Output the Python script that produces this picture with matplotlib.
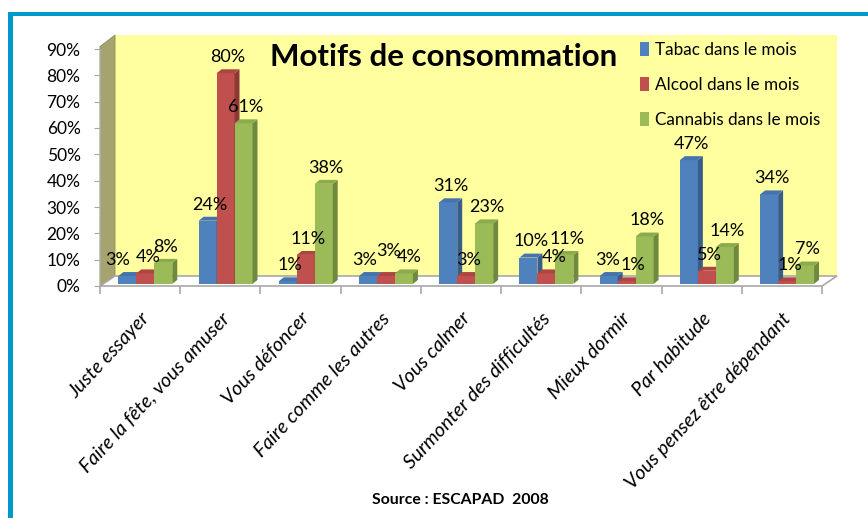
import numpy as np
import matplotlib
matplotlib.use("Agg")
import matplotlib.pyplot as plt
import matplotlib.transforms as mtransforms
from matplotlib.patches import Polygon, Rectangle, Patch

categories = ["Juste essayer", "Faire la fête, vous amuser", "Vous défoncer",
              "Faire comme les autres", "Vous calmer", "Surmonter des difficultés",
              "Mieux dormir", "Par habitude", "Vous pensez être dépendant"]
tabac = [3, 24, 1, 3, 31, 10, 3, 47, 34]
alcool = [4, 80, 11, 3, 3, 4, 1, 5, 1]
cannabis = [8, 61, 38, 4, 23, 11, 18, 14, 7]
series_names = ["Tabac dans le mois", "Alcool dans le mois", "Cannabis dans le mois"]
yticks = [0, 10, 20, 30, 40, 50, 60, 70, 80, 90]

# front, side, top colours
colors = [("#4F81BD", "#385D8A", "#4573AD"),
          ("#C0504D", "#8C3836", "#AE4542"),
          ("#9BBB59", "#71893F", "#8CAB4E")]

# label nudges (pixels) where the original chart moved overlapping labels
nudges = {(0, 0): (-12, 0), (3, 0): (-6, 0), (3, 1): (0, 9), (3, 2): (3, 0),
          (5, 1): (5, 0), (6, 0): (-4, 0), (6, 1): (4, 0)}

plt.rcParams['font.family'] = ['Lato', 'DejaVu Sans']

W, H = 868, 518
fig = plt.figure(figsize=(W / 100, H / 100), dpi=100)
fig.patch.set_facecolor("white")

# blue frame
fig.add_artist(Rectangle((8 / W, 1 - 16 / H), 1, 4 / H, transform=fig.transFigure,
                         color="#0099CC", lw=0))
fig.add_artist(Rectangle((8 / W, 0), 5 / W, 1 - 12 / H, transform=fig.transFigure,
                         color="#0099CC", lw=0))

ax = fig.add_axes([100 / W, (H - 286) / H, 722 / W, 237 / H])
ax.set_xlim(-0.5, len(categories) - 0.5)
ax.set_ylim(0, 90)
ax.set_facecolor("none")

# 3D walls (axes fraction)
dxa, dya = 15 / 722, 10 / 237
ax.add_patch(Rectangle((dxa, dya), 1, 1.059 - dya, transform=ax.transAxes,
                       facecolor="#FFFFA0", edgecolor="none", clip_on=False, zorder=0))
ax.add_patch(Polygon([(0, 0), (0, 1.01), (dxa, 1.059), (dxa, dya)], closed=True,
                     transform=ax.transAxes, facecolor="#A6A46E", edgecolor="#8C8A5A",
                     lw=0.6, clip_on=False, zorder=0.5))
ax.add_patch(Polygon([(0, 0), (1, 0), (1 + dxa, dya), (dxa, dya)], closed=True,
                     transform=ax.transAxes, facecolor="white", edgecolor="#A8A8A8",
                     lw=1.2, clip_on=False, zorder=0.5))

x = np.arange(len(categories))
w = 0.224
shift = 0.065
ddx, ddy = 0.062, 1.5
base = 0.8
series = [tabac, alcool, cannabis]

for i in range(len(categories)):
    for s, vals in enumerate(series):
        x0 = x[i] + shift + (s - 1.5) * w
        top = base + vals[i]
        fc, sc, tc = colors[s]
        z = 2 + s
        ax.bar(x0, vals[i], width=w, bottom=base, align="edge", color=fc,
               edgecolor="none", zorder=z)
        ax.add_patch(Polygon([(x0 + w, base), (x0 + w + ddx, base + ddy),
                              (x0 + w + ddx, top + ddy), (x0 + w, top)],
                             closed=True, facecolor=sc, edgecolor="none", zorder=z))
        ax.add_patch(Polygon([(x0, top), (x0 + w, top), (x0 + w + ddx, top + ddy),
                              (x0 + ddx, top + ddy)],
                             closed=True, facecolor=tc, edgecolor="none", zorder=z))
        nx, ny = nudges.get((i, s), (0, 0))
        ax.annotate(f"{vals[i]}%", (x0 + w / 2 + ddx / 2, top + ddy),
                    xytext=(nx * 0.72, 3 + ny * 0.72), textcoords="offset points",
                    ha="center", va="bottom", fontsize=13, color="black", zorder=10)

handles = [Patch(facecolor=colors[s][0], edgecolor="none", label=series_names[s])
           for s in range(3)]

ax.set_yticks(yticks)
ax.set_yticklabels([f"{v}%" for v in yticks], fontsize=12.5)
ax.set_xticks(x)
ax.set_xticklabels(categories, rotation=47, ha="right", rotation_mode="anchor",
                   fontsize=14.3, style="italic")
offset = mtransforms.ScaledTranslation(-10 / 100, 0, fig.dpi_scale_trans)
for lbl in ax.get_xticklabels():
    lbl.set_transform(lbl.get_transform() + offset)
ax.set_xticks(np.arange(-0.5, len(categories)), minor=True)
ax.tick_params(axis="x", which="major", length=0, pad=17)
ax.tick_params(axis="x", which="minor", length=6, color="#A8A8A8", width=1.2)
ax.tick_params(axis="y", length=4, color="#A8A8A8", pad=10)

for side in ["top", "right", "bottom"]:
    ax.spines[side].set_visible(False)
ax.spines["left"].set_color("#A8A8A8")

fig.text(444 / W, 1 - 57 / H, "Motifs de consommation", fontsize=22.5,
         fontweight="bold", ha="center", va="center")

ax.legend(handles=handles, loc="upper left",
          bbox_to_anchor=(640 / W, 1 - 42 / H), bbox_transform=fig.transFigure,
          frameon=False, fontsize=12.3, handlelength=0.5, handleheight=0.9,
          handletextpad=0.4, labelspacing=1.1, borderpad=0, borderaxespad=0)

fig.text(460 / W, 1 - 500 / H, "Source : ESCAPAD  2008", fontsize=11.3,
         fontweight="bold", ha="center", va="center")

fig.savefig("out.png", dpi=100)
